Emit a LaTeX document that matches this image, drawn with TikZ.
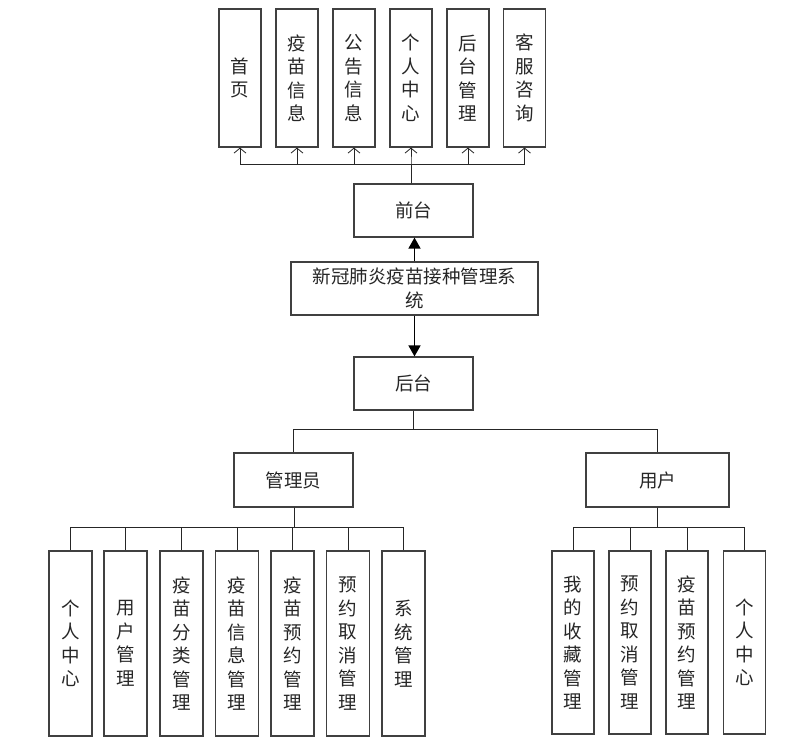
\documentclass[tikz,border=0pt]{standalone}
\usepackage{fontspec}
\newfontfamily\cjk{Noto Sans CJK SC}
\usetikzlibrary{arrows.meta}
\begin{document}
\begin{tikzpicture}[x=1pt,y=-1pt,
  box/.style={draw=black!75,line width=1.2pt,fill=white,inner sep=0pt,align=center,
    font=\cjk\fontsize{18.5}{23.5}\selectfont,text=black!85},
  vbox/.style={box,minimum width=42pt},
  hbox/.style={box,minimum height=53pt},
  conn/.style={draw=black!85,line width=1pt},
  openarrow/.style={conn,-{Straight Barb[length=5pt,width=12pt,line width=0.8pt]}},
  fillarrow/.style={draw=black,line width=1.6pt,-{Triangle[length=11pt,width=12pt]}}
]
\useasboundingbox (0,0) rectangle (807,748);
% top row
\node[vbox,minimum height=138pt] (t1) at (240,78) {首\\页};
\node[vbox,minimum height=138pt] (t2) at (297,78) {疫\\苗\\信\\息};
\node[vbox,minimum height=138pt] (t3) at (354,78) {公\\告\\信\\息};
\node[vbox,minimum height=138pt] (t4) at (411,78) {个\\人\\中\\心};
\node[vbox,minimum height=138pt] (t5) at (468,78) {后\\台\\管\\理};
\node[vbox,minimum height=138pt] (t6) at (524.5,78) {客\\服\\咨\\询};
% middle
\node[hbox,minimum width=119pt] (qt) at (413.5,210.5) {前台};
\node[hbox,minimum width=247pt] (sys) at (414.5,288.5) {新冠肺炎疫苗接种管理系\\统};
\node[hbox,minimum width=119pt] (ht) at (413.5,383.5) {后台};
\node[hbox,minimum width=119pt,minimum height=54pt] (gly) at (293.5,480) {管理员};
\node[hbox,minimum width=143pt,minimum height=54pt] (yh) at (657.5,480) {用户};
% bottom left
\node[vbox,minimum width=43pt,minimum height=185pt] (l1) at (70.5,643.5) {个\\人\\中\\心};
\node[vbox,minimum width=43pt,minimum height=185pt] (l2) at (125.5,643.5) {用\\户\\管\\理};
\node[vbox,minimum width=43pt,minimum height=185pt] (l3) at (181.5,643.5) {疫\\苗\\分\\类\\管\\理};
\node[vbox,minimum width=43pt,minimum height=185pt] (l4) at (237,643.5) {疫\\苗\\信\\息\\管\\理};
\node[vbox,minimum width=43pt,minimum height=185pt] (l5) at (292.5,643.5) {疫\\苗\\预\\约\\管\\理};
\node[vbox,minimum width=43pt,minimum height=185pt] (l6) at (348,643.5) {预\\约\\取\\消\\管\\理};
\node[vbox,minimum width=43pt,minimum height=185pt] (l7) at (403.5,643.5) {系\\统\\管\\理};
% bottom right
\node[vbox,minimum height=183pt] (r1) at (573,642.5) {我\\的\\收\\藏\\管\\理};
\node[vbox,minimum height=183pt] (r2) at (630,642.5) {预\\约\\取\\消\\管\\理};
\node[vbox,minimum height=183pt] (r3) at (687,642.5) {疫\\苗\\预\\约\\管\\理};
\node[vbox,minimum height=183pt] (r4) at (744.5,642.5) {个\\人\\中\\心};
% connectors top
\coordinate (busT) at (411,164);
\foreach \i in {1,...,6}{
  \draw[openarrow] (qt.north -| t4.south) -- (busT) -| (t\i.south);
}
% arrows
\draw[fillarrow] (sys.north) -- (sys.north |- qt.south);
\draw[fillarrow] (sys.south) -- (sys.south |- ht.north);
% branch
\coordinate (br) at (413.5,429);
\draw[conn] (ht.south) -- (br) -| (gly.north);
\draw[conn] (br) -| (yh.north);
% admin children
\coordinate (bl) at (294,527);
\foreach \i in {1,...,7}{
  \draw[conn] (gly.south -| bl) -- (bl) -| (l\i.north);
}
% user children
\coordinate (bu) at (657,527);
\foreach \i in {1,...,4}{
  \draw[conn] (yh.south -| bu) -- (bu) -| (r\i.north);
}
\end{tikzpicture}
\end{document}
